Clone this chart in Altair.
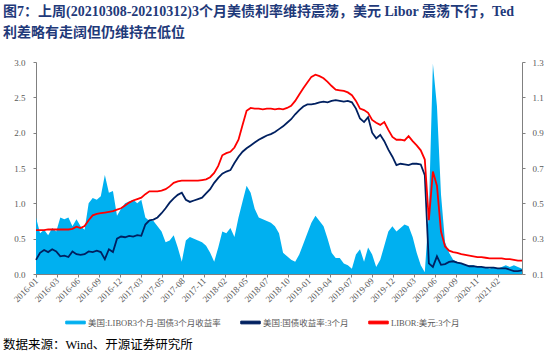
import altair as alt
import pandas as pd

TITLE_1 = "图7：上周(20210308-20210312)3个月美债利率维持震荡，美元 Libor 震荡下行，Ted"
TITLE_2 = "利差略有走阔但仍维持在低位"
SOURCE = "数据来源：Wind、开源证券研究所"

S_SPREAD = "美国:LIBOR3个月-国债3个月收益率"
S_TBILL = "美国:国债收益率:3个月"
S_LIBOR = "LIBOR:美元:3个月"

TICK_LABELS = ["2016-01", "2016-03", "2016-06", "2016-09", "2016-12", "2017-03",
               "2017-05", "2017-08", "2017-11", "2018-02", "2018-05", "2018-07",
               "2018-10", "2019-01", "2019-04", "2019-07", "2019-09", "2019-12",
               "2020-03", "2020-06", "2020-09", "2020-11", "2021-02"]
POINT_STEP = 11   # trading days between samples
TICK_STEP = 57    # trading days between axis labels

LIBOR = [0.62, 0.62, 0.62, 0.63, 0.63, 0.63, 0.63, 0.63, 0.63, 0.64,
         0.67, 0.65, 0.68, 0.76, 0.83, 0.85, 0.86, 0.87, 0.88, 0.89,
         0.91, 0.93, 0.97, 1.01, 1.04, 1.06, 1.08, 1.13, 1.17, 1.17,
         1.17, 1.18, 1.20, 1.24, 1.29, 1.31, 1.32, 1.32, 1.32, 1.32,
         1.32, 1.33, 1.34, 1.37, 1.43, 1.53, 1.68, 1.71, 1.73, 1.79,
         1.90, 2.11, 2.31, 2.35, 2.34, 2.34, 2.33, 2.34, 2.34, 2.33,
         2.34, 2.33, 2.35, 2.38, 2.45, 2.54, 2.63, 2.71, 2.79, 2.82,
         2.80, 2.77, 2.72, 2.66, 2.61, 2.60, 2.59, 2.57, 2.53, 2.45,
         2.34, 2.32, 2.28, 2.18, 2.14, 2.11, 2.15, 2.04, 1.94, 1.90,
         1.90, 1.89, 1.95, 1.88, 1.82, 1.75, 1.62, 0.76, 1.45, 1.25,
         0.60, 0.39, 0.33, 0.31, 0.30, 0.28, 0.27, 0.26, 0.25, 0.24,
         0.24, 0.23, 0.22, 0.22, 0.22, 0.22, 0.21, 0.21, 0.20, 0.19, 0.19]

TBILL = [0.20, 0.30, 0.34, 0.31, 0.35, 0.32, 0.25, 0.26, 0.24, 0.32,
         0.28, 0.27, 0.28, 0.32, 0.31, 0.33, 0.31, 0.21, 0.35, 0.31,
         0.50, 0.53, 0.52, 0.54, 0.53, 0.55, 0.54, 0.70, 0.76, 0.77,
         0.80, 0.86, 0.93, 1.01, 1.07, 1.12, 1.15, 1.05, 1.02, 1.04,
         1.06, 1.08, 1.14, 1.20, 1.29, 1.36, 1.42, 1.45, 1.47, 1.57,
         1.66, 1.73, 1.78, 1.82, 1.86, 1.90, 1.93, 1.96, 1.98, 2.01,
         2.05, 2.09, 2.14, 2.19, 2.26, 2.32, 2.37, 2.40, 2.40, 2.41,
         2.43, 2.44, 2.43, 2.45, 2.46, 2.45, 2.44, 2.45, 2.43, 2.34,
         2.20, 2.15, 2.22, 2.00, 1.92, 1.97, 1.88, 1.76, 1.66, 1.54,
         1.56, 1.55, 1.54, 1.56, 1.56, 1.55, 1.40, 0.15, 0.10, 0.25,
         0.13, 0.14, 0.17, 0.18, 0.16, 0.15, 0.13, 0.11, 0.11, 0.10,
         0.10, 0.09, 0.09, 0.09, 0.08, 0.08, 0.08, 0.06, 0.04, 0.04, 0.05]

SPREAD = [0.42, 0.33, 0.35, 0.32, 0.36, 0.34, 0.42, 0.41, 0.42, 0.37,
          0.41, 0.37, 0.35, 0.50, 0.53, 0.52, 0.54, 0.66, 0.56, 0.57,
          0.43, 0.47, 0.50, 0.51, 0.52, 0.50, 0.52, 0.42, 0.40, 0.40,
          0.37, 0.34, 0.28, 0.29, 0.32, 0.25, 0.17, 0.29, 0.31, 0.30,
          0.29, 0.28, 0.26, 0.22, 0.17, 0.25, 0.34, 0.33, 0.36, 0.31,
          0.42, 0.51, 0.60, 0.56, 0.47, 0.42, 0.41, 0.40, 0.39, 0.37,
          0.33, 0.22, 0.20, 0.18, 0.17, 0.21, 0.27, 0.33, 0.39, 0.43,
          0.40, 0.37, 0.30, 0.22, 0.19, 0.19, 0.16, 0.15, 0.13, 0.21,
          0.24, 0.17, 0.25, 0.21, 0.14, 0.18, 0.26, 0.34, 0.37, 0.34,
          0.36, 0.38, 0.37, 0.31, 0.22, 0.15, 0.11, 0.45, 1.29, 1.05,
          0.55, 0.28, 0.22, 0.18, 0.17, 0.16, 0.15, 0.15, 0.15, 0.14,
          0.14, 0.14, 0.13, 0.14, 0.13, 0.14, 0.15, 0.14, 0.15, 0.14, 0.13]

COLORS = ["#00B0F0", "#002060", "#FF0000"]
SERIF = "Liberation Serif, Times New Roman, Noto Sans CJK SC"
GRAY = "#595959"

t = [i * POINT_STEP for i in range(len(LIBOR))]
n_pts = len(t)
area_df = pd.DataFrame({"t": t, "value": SPREAD, "series": [S_SPREAD] * n_pts})
line_df = pd.DataFrame({
    "t": t + t,
    "value": TBILL + LIBOR,
    "series": [S_TBILL] * n_pts + [S_LIBOR] * n_pts,
})

domain_max = t[-1]
color_scale = alt.Scale(domain=[S_SPREAD, S_TBILL, S_LIBOR], range=COLORS)
legend = alt.Legend(
    orient="none", legendX=29, legendY=250, direction="horizontal", title=None,
    symbolType="M-1,-0.14L1,-0.14L1,0.14L-1,0.14Z", symbolSize=380,
    symbolStrokeWidth=1, labelFontSize=8.5, labelFont=SERIF, labelColor=GRAY,
    columnPadding=17, labelLimit=400, labelOffset=2,
)

label_expr = "[" + ",".join(f"'{s}'" for s in TICK_LABELS) + f"][round(datum.value / {TICK_STEP})]"
x_axis = alt.Axis(
    values=[i * TICK_STEP for i in range(len(TICK_LABELS))], labelExpr=label_expr,
    labelAngle=-45, labelAlign="right", labelBaseline="middle", tickSize=3,
    labelPadding=2, domainColor="#808080", tickColor="#808080", labelColor=GRAY,
    labelFontSize=9, labelFont=SERIF, grid=False, title=None, labelOverlap=False,
    labelFlush=False,
)
x_scale = alt.Scale(domain=[0, domain_max], nice=False, zero=False)
x_enc = alt.X("t:Q", scale=x_scale, axis=x_axis)

area = alt.Chart(area_df).mark_area(opacity=1, interpolate="linear").encode(
    x=x_enc,
    y=alt.Y("value:Q", scale=alt.Scale(domain=[0.1, 1.3], nice=False, zero=False),
            axis=alt.Axis(orient="right", values=[0.1, 0.3, 0.5, 0.7, 0.9, 1.1, 1.3],
                          format=".1f", grid=False, title=None, tickSize=3,
                          labelPadding=7, domainColor="#808080", tickColor="#808080",
                          labelColor=GRAY, labelFontSize=9, labelFont=SERIF,
                          labelFlush=False)),
    y2=alt.datum(0.1),
    color=alt.Color("series:N", scale=color_scale, legend=legend),
)

lines = alt.Chart(line_df).mark_line(strokeWidth=1.8).encode(
    x=x_enc,
    y=alt.Y("value:Q", scale=alt.Scale(domain=[0, 3], nice=False),
            axis=alt.Axis(orient="left", values=[0, 0.5, 1, 1.5, 2, 2.5, 3],
                          format=".1f", grid=False, title=None, tickSize=3,
                          labelPadding=8, domainColor="#808080", tickColor="#808080",
                          labelColor=GRAY, labelFontSize=9, labelFont=SERIF,
                          labelFlush=False)),
    color=alt.Color("series:N", scale=color_scale, legend=legend),
    detail="series:N",
)


def text_layer(txt, x, y, size, color, weight="normal"):
    return alt.Chart(pd.DataFrame({"txt": [txt]})).mark_text(
        align="left", baseline="middle", fontSize=size, font=SERIF,
        fontWeight=weight, color=color,
    ).encode(x=alt.value(x), y=alt.value(y), text="txt:N")


title1 = text_layer(TITLE_1, -33, -50, 14, "#1F3A7A", "bold")
title2 = text_layer(TITLE_2, -33, -29, 14, "#1F3A7A", "bold")
source = text_layer(SOURCE, -33, 283, 12.5, "#000000")

chart = alt.layer(
    area, lines, title1, title2, source
).resolve_scale(y="independent").properties(
    width=486, height=212,
    padding={"left": 36, "top": 62, "right": 28, "bottom": 81},
    autosize=alt.AutoSizeParams(type="none"),
).configure_view(stroke=None)

chart.save("out.html", embed_options={"renderer": "svg", "actions": False})
